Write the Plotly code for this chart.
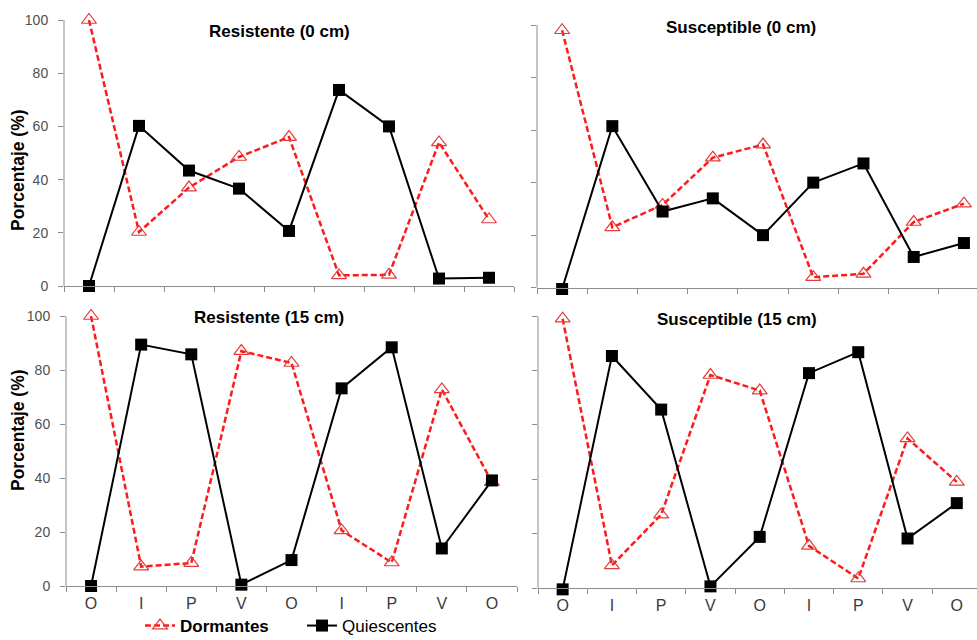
import plotly.graph_objects as go

W, H = 977, 640

seasons = ["O", "I", "P", "V", "O", "I", "P", "V", "O"]
xpos = list(range(len(seasons)))

titles = ["Resistente (0 cm)", "Susceptible (0 cm)", "Resistente (15 cm)", "Susceptible (15 cm)"]

dorm_r0 = [100, 20.3, 37, 48.5, 56, 4, 4.2, 54, 25]
quie_r0 = [0, 60.2, 43.4, 36.6, 20.7, 73.7, 60, 2.8, 3.1]

dorm_s0 = [98, 23, 31.5, 49.5, 54.5, 4, 5.3, 25, 32]
quie_s0 = [-0.5, 61.5, 29, 34, 20, 40, 47.3, 11.7, 17]

dorm_r15 = [100, 7.2, 8.5, 87, 82.6, 20.6, 8.7, 72.8, 38.5]
quie_r15 = [0, 89.4, 85.8, 0.5, 9.6, 73.2, 88.4, 13.9, 39.1]

dorm_s15 = [99, 8.3, 27, 78.3, 72.6, 15.5, 3.5, 55, 39]
quie_s15 = [-0.5, 85.3, 65.6, 0.6, 18.8, 79, 86.7, 18.2, 31.2]

panels = [
    (dorm_r0, quie_r0),
    (dorm_s0, quie_s0),
    (dorm_r15, quie_r15),
    (dorm_s15, quie_s15),
]

# pixel geometry of each panel: (x_left, x_right, y_top(100), y_bottom(0), xmax_range)
geom = [
    (64, 514, 20, 286, 8.5),
    (537, 977, 25, 287.7, 8.26),
    (66, 517, 316, 586, 8.5),
    (538, 977, 316, 588, 8.41),
]
YMIN = -3

RED = "#ff1a1a"
TRI = "#e23c3c"
AX = "#8c8c8c"
FONT = "Arial, Liberation Sans"

fig = go.Figure()
layout = {}
for i, ((d, q), (xl, xr, yt, yb, xmax)) in enumerate(zip(panels, geom)):
    n = "" if i == 0 else str(i + 1)
    xa, ya = "x" + n, "y" + n
    fig.add_trace(go.Scatter(
        x=xpos, y=d, xaxis=xa, yaxis=ya, mode="lines+markers",
        name="<b>Dormantes</b>", legendgroup="d", showlegend=(i == 0),
        line=dict(color=RED, width=2.5, dash="6px,3px"),
        marker=dict(symbol="triangle-up-open", size=13, color=TRI, line=dict(width=1.2, color=TRI)),
        cliponaxis=False,
    ))
    fig.add_trace(go.Scatter(
        x=xpos, y=q, xaxis=xa, yaxis=ya, mode="lines+markers",
        name="Quiescentes", legendgroup="q", showlegend=(i == 0),
        line=dict(color="black", width=2),
        marker=dict(symbol="square", size=12, color="black"),
        cliponaxis=False,
    ))
    bottom = i >= 2
    left = i % 2 == 0
    ybot = yb + (-YMIN) * (yb - yt) / 100.0
    layout["xaxis" + n] = dict(
        domain=[xl / W, xr / W], range=[-0.5, xmax], anchor="free", position=1 - yb / H,
        tickmode="array", tickvals=xpos, ticktext=seasons if bottom else [""] * 9,
        showticklabels=bottom, ticks="", ticklabelstandoff=3,
        tickfont=dict(family=FONT, size=16, color="#3a3a3a"),
        showline=True, linecolor=AX, linewidth=1, showgrid=False, zeroline=False,
        minor=dict(tickmode="array", tickvals=[k - 0.5 for k in range(10)],
                   ticks="outside", ticklen=5, tickcolor=AX, tickwidth=1, showgrid=False),
        automargin=False, fixedrange=True,
    )
    layout["yaxis" + n] = dict(
        domain=[1 - ybot / H, 1 - yt / H], range=[YMIN, 100], anchor=xa,
        tickmode="array", tickvals=[0, 20, 40, 60, 80, 100],
        showticklabels=left, ticks="outside", ticklen=5, tickcolor=AX, ticklabelstandoff=7,
        tickfont=dict(family=FONT, size=14, color="#505050"),
        showline=False, showgrid=False, zeroline=False, automargin=False, fixedrange=True,
    )

shapes = []
for i, (xl, xr, yt, yb, xmax) in enumerate(geom):
    shapes.append(dict(type="line", xref="paper", yref="paper",
                       x0=xl / W, x1=xl / W, y0=1 - yb / H, y1=1 - yt / H,
                       line=dict(color=AX, width=1), layer="below"))

annotations = []
title_pos = [(279, 31), (741, 27), (269, 317), (737, 319)]
for t, (px, py) in zip(titles, title_pos):
    annotations.append(dict(
        text="<b>%s</b>" % t, x=px / W, y=1 - py / H, xref="paper", yref="paper",
        showarrow=False, xanchor="center", yanchor="middle",
        font=dict(family=FONT, size=17, color="black"),
    ))
for py in (170, 430):
    annotations.append(dict(
        text="<b>Porcentaje (%)</b>", x=18 / W, y=1 - py / H, xref="paper", yref="paper",
        showarrow=False, xanchor="center", yanchor="middle", textangle=-90,
        font=dict(family=FONT, size=17.5, color="black"),
    ))

fig.update_layout(
    width=W, height=H,
    margin=dict(l=0, r=0, t=0, b=0, autoexpand=False),
    paper_bgcolor="white", plot_bgcolor="white",
    showlegend=True,
    legend=dict(orientation="h", x=140 / W, y=1 - 626 / H, xanchor="left", yanchor="middle",
                font=dict(family=FONT, size=17, color="black"),
                bgcolor="rgba(0,0,0,0)", itemwidth=30, entrywidth=117, entrywidthmode="pixels",
                tracegroupgap=0),
    annotations=annotations,
    shapes=shapes,
    **layout,
)

fig.write_html("out.html", config={"displayModeBar": False},
               post_script="document.body.style.margin='0';document.body.style.overflow='hidden';")
